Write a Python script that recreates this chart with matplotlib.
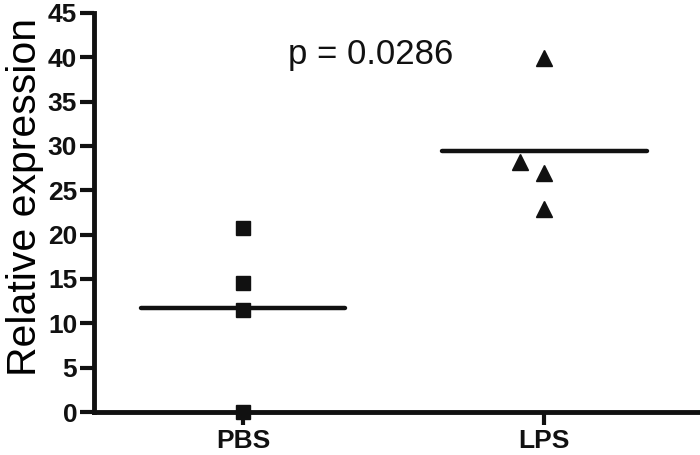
import matplotlib
matplotlib.use("Agg")
import matplotlib.pyplot as plt
import numpy as np

plt.rcParams['font.family'] = ['Liberation Sans', 'DejaVu Sans']

# Data
groups = ["PBS", "LPS"]
pbs_values = [20.7, 14.5, 11.5, 0.0]
lps_values = [39.9, 28.2, 26.9, 22.9]
lps_offsets = [0.0, -0.08, 0.0, 0.0]   # small horizontal jitter seen in the picture
p_text = "p = 0.0286"
yticks = [0, 5, 10, 15, 20, 25, 30, 35, 40, 45]

fig = plt.figure(figsize=(7, 4.55), dpi=100)
ax = fig.add_axes([0.134, 0.0945, 0.863, 0.877])

# Scatter points
ax.plot([0] * len(pbs_values), pbs_values, linestyle='none', marker='s',
        markersize=10.5, color='#111111', clip_on=False, zorder=4)
ax.plot(np.array([1] * len(lps_values)) + np.array(lps_offsets), lps_values,
        linestyle='none', marker='^', markersize=12, color='#111111',
        clip_on=False, zorder=4)

# Mean lines
half = 0.34
for i, vals in enumerate([pbs_values, lps_values]):
    m = np.mean(vals)
    ax.plot([i - half, i + half], [m, m], color='#111111', linewidth=3.2,
            solid_capstyle='round', zorder=3)

ax.text(0.425, 40.3, p_text, fontsize=25, ha='center', va='center', color='#111111')

ax.set_xlim(-0.495, 1.51)
ax.set_ylim(0, 45)
ax.set_xticks([0, 1])
ax.set_xticklabels(groups, fontsize=19, fontweight='bold')
ax.set_yticks(yticks)
ax.set_yticklabels([str(t) for t in yticks], fontsize=19, fontweight='bold')
ax.set_ylabel("Relative expression", fontsize=29.5)
ax.yaxis.set_label_coords(-0.083, 0.54)

for side in ['top', 'right']:
    ax.spines[side].set_visible(False)
for side in ['left', 'bottom']:
    ax.spines[side].set_linewidth(3.5)
    ax.spines[side].set_color('#111111')
    ax.spines[side].set_capstyle('projecting')

ax.tick_params(axis='y', length=10, width=3, color='#111111', labelcolor='#111111', pad=2)
ax.tick_params(axis='x', length=9, width=3, color='#111111', labelcolor='#111111', pad=3)

fig.savefig("out.png", dpi=100)
